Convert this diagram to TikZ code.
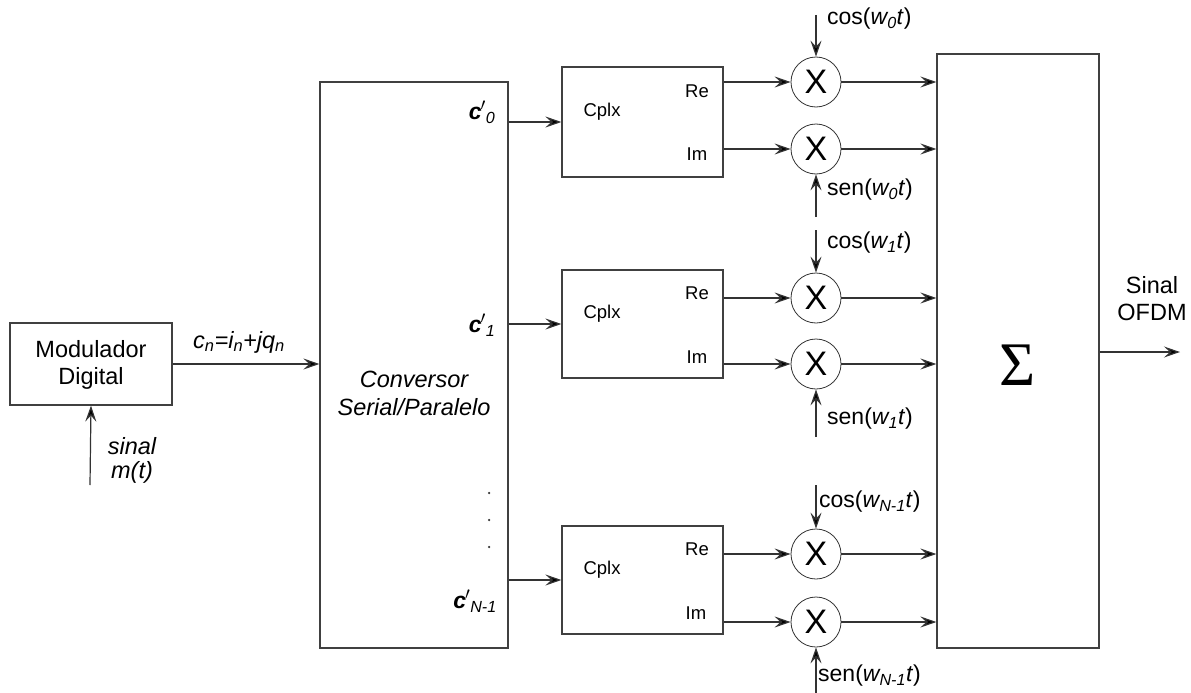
\documentclass[tikz,border=0pt]{standalone}
\usepackage{fontspec}
\setmainfont{Liberation Sans}
\newfontfamily\sigfont{Liberation Serif}
\usetikzlibrary{arrows.meta}
\begin{document}
\begin{tikzpicture}[x=1pt,y=-1pt,
  ln/.style={draw=black!80,line width=1.2pt},
  arr/.style={ln,-{Stealth[length=16pt,width=11pt,inset=6pt,fill=black]}},
  blk/.style={draw=black!75,line width=1.2pt,fill=white,inner sep=0pt},
  mult/.style={circle,draw=black!80,line width=0.8pt,minimum size=50pt,inner sep=0pt,font=\fontsize{34}{34}\selectfont},
  big/.style={font=\fontsize{23.5}{27}\selectfont,align=center,inner sep=0pt},
  small/.style={font=\fontsize{18.5}{20}\selectfont,inner sep=0pt},
  osc/.style={font=\fontsize{23}{26}\selectfont,inner sep=0pt,anchor=west},
  cl/.style={font=\fontsize{23}{26}\selectfont\bfseries\itshape,inner sep=0pt}
]
\useasboundingbox (0,0) rectangle (1191,693);
% blocks
\node[blk,minimum width=162pt,minimum height=82pt] (mod) at (91,364) {};
\node[big] (modt) at (91,365) {Modulador\\Digital};
\node[blk,minimum width=188pt,minimum height=566pt] (conv) at (414,365) {};
\node[big,font=\fontsize{23.5}{28}\selectfont\itshape] (convt) at (414,393) {Conversor\\Serial/Paralelo};
\node[blk,minimum width=161pt,minimum height=110pt] (cx0) at (642.5,122) {};
\node[blk,minimum width=161pt,minimum height=108pt] (cx1) at (642.5,324) {};
\node[blk,minimum width=161pt,minimum height=108pt] (cx2) at (642.5,580) {};
\node[blk,minimum width=162pt,minimum height=594pt] (sum) at (1018,351) {};
\node[font=\fontsize{62}{62}\sigfont,inner sep=0pt] (sig) at (1018,365) {Σ};
% Cplx texts
\node[small] (cp0) at (602,112) {Cplx};
\node[small] (re0) at (697,91) {Re};
\node[small] (im0) at (697,154) {Im};
\node[small] (cp1) at (602,314) {Cplx};
\node[small] (re1) at (697,293) {Re};
\node[small] (im1) at (697,357) {Im};
\node[small] (cp2) at (602,570) {Cplx};
\node[small] (re2) at (697,549) {Re};
\node[small] (im2) at (696,613) {Im};
% multipliers
\node[mult] (m0a) at (816,82) {X};
\node[mult] (m0b) at (816,149) {X};
\node[mult] (m1a) at (816,298) {X};
\node[mult] (m1b) at (816,364) {X};
\node[mult] (m2a) at (816,554) {X};
\node[mult] (m2b) at (816,622) {X};
% coordinates
\coordinate (in) at (90,485);
\coordinate (out) at (1180,352);
\coordinate (c0) at (816,15);
\coordinate (s0) at (816,217);
\coordinate (c1) at (816,230);
\coordinate (s1) at (816,437);
\coordinate (c2) at (816,485);
\coordinate (s2) at (816,693);
% labels
\node[big,font=\fontsize{23.5}{27}\selectfont\itshape] (cn) at (239,342) {c\textsubscript{n}=i\textsubscript{n}+jq\textsubscript{n}};
\node[big,font=\fontsize{23.5}{24}\selectfont\itshape] (sin) at (132,460) {sinal\\m(t)};
\node[big] (ofdm) at (1152,299) {Sinal\\OFDM};
\node[cl] (l0) at (482,112) {c\kern-1pt$'$\textsubscript{\mdseries 0}};
\node[cl] (l1) at (482,325) {c\kern-1pt$'$\textsubscript{\mdseries 1}};
\node[cl] (l2) at (475,601) {c\kern-1pt$'$\textsubscript{\mdseries N-1}};
\node[osc] (cos0) at (827,19) {cos(\textit{w\textsubscript{0}t})};
\node[osc] (sen0) at (827,190) {sen(\textit{w\textsubscript{0}t})};
\node[osc] (cos1) at (827,243) {cos(\textit{w\textsubscript{1}t})};
\node[osc] (sen1) at (827,419) {sen(\textit{w\textsubscript{1}t})};
\node[osc] (cos2) at (819,502) {cos(\textit{w\textsubscript{N-1}t})};
\node[osc] (sen2) at (818,676) {sen(\textit{w\textsubscript{N-1}t})};
% dots
\foreach \yy [count=\i] in {493,520,547} \node[circle,fill=black!80,inner sep=0pt,minimum size=2.5pt] (d\i) at (489,\yy) {};
% connectors
\draw[arr] (in) -- (mod.south);
\draw[arr] (mod.east) -- (conv.west |- mod.east);
\draw[arr] (conv.east |- cx0) -- (cx0.west);
\draw[arr] (conv.east |- cx1) -- (cx1.west);
\draw[arr] (conv.east |- cx2) -- (cx2.west);
\foreach \r in {0,1,2}{
  \draw[arr] (cx\r.east |- m\r a) -- (m\r a.west);
  \draw[arr] (cx\r.east |- m\r b) -- (m\r b.west);
  \draw[arr] (m\r a.east) -- (sum.west |- m\r a);
  \draw[arr] (m\r b.east) -- (sum.west |- m\r b);
  \draw[arr] (c\r) -- (m\r a.north);
  \draw[arr] (s\r) -- (m\r b.south);
}
\draw[arr] (sum.east |- out) -- (out);
\end{tikzpicture}
\end{document}
